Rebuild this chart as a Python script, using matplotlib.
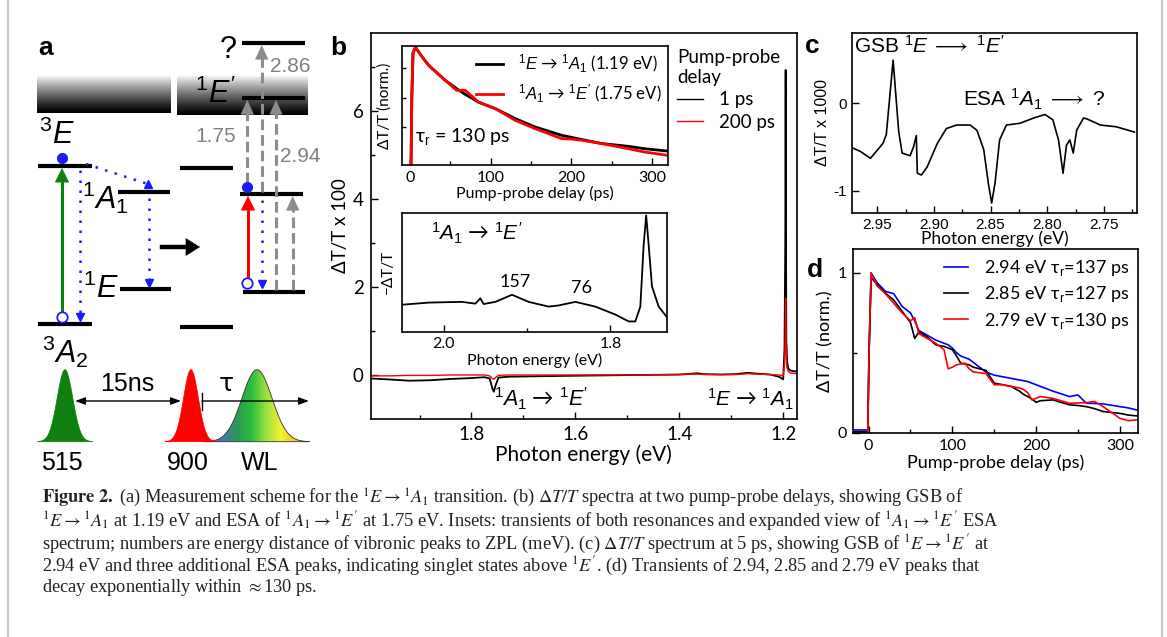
import numpy as np
import matplotlib.pyplot as plt
from matplotlib.patches import Polygon
from matplotlib.colors import LinearSegmentedColormap
from matplotlib.lines import Line2D

plt.rcParams['font.family'] = ['Lato', 'DejaVu Sans']
plt.rcParams['mathtext.fontset'] = 'custom'
plt.rcParams['mathtext.rm'] = 'Liberation Sans'
plt.rcParams['mathtext.it'] = 'Liberation Sans:italic'
plt.rcParams['mathtext.bf'] = 'Liberation Sans:bold'
plt.rcParams['mathtext.fallback'] = 'stix'
plt.rcParams['axes.unicode_minus'] = False

# ---- data: panel b, main spectra (photon energy in eV, dT/T x 100)
E_main = [1.994, 1.96, 1.92, 1.88, 1.84, 1.80, 1.775, 1.765, 1.760, 1.757, 1.754,
          1.748, 1.73, 1.68, 1.62, 1.55, 1.48, 1.40, 1.375, 1.365, 1.355, 1.32,
          1.29, 1.268, 1.25, 1.225, 1.208, 1.200, 1.1975, 1.196, 1.1953, 1.1947,
          1.194, 1.1925, 1.190, 1.187, 1.182, 1.174]
spec_1ps = [-0.08, -0.10, -0.13, -0.12, -0.09, -0.07, -0.05, -0.08, -0.30, -0.38, -0.25,
            -0.06, -0.04, -0.03, -0.02, -0.01, 0.0, 0.01, 0.03, 0.04, 0.02, 0.01,
            0.02, 0.05, 0.03, 0.01, -0.04, -0.10, 0.6, 3.0, 6.93, 3.5,
            0.8, 0.3, 0.15, 0.11, 0.09, 0.08]
spec_200ps = [-0.02, -0.02, -0.01, -0.01, 0.0, 0.0, 0.0, -0.02, -0.08, -0.10, -0.06,
              -0.01, 0.0, 0.0, 0.0, 0.0, 0.0, 0.01, 0.02, 0.02, 0.01, 0.01,
              0.01, 0.03, 0.02, 0.01, 0.0, -0.02, 0.25, 0.8, 1.75, 0.9,
              0.35, 0.15, 0.08, 0.05, 0.04, 0.03]

# inset 1: transients (ps, normalised)
t_tr = [1.5, 2.5, 4, 7, 15, 23.5, 34, 44, 58, 68.5, 85, 106, 130.5, 155, 188, 200,
        213, 237.5, 270, 290, 318]
tr_119 = [-0.1, 0.5, 0.88, 0.93, 0.85, 0.775, 0.71, 0.648, 0.578, 0.53, 0.464, 0.408,
          0.324, 0.253, 0.182, 0.165, 0.146, 0.112, 0.089, 0.069, 0.049]
tr_175 = [-0.1, 0.5, 0.88, 0.93, 0.85, 0.775, 0.71, 0.648, 0.564, 0.564, 0.464, 0.408,
          0.309, 0.239, 0.154, 0.150, 0.14, 0.112, 0.069, 0.041, 0.013]

# inset 2: ESA spectrum 1A1 -> 1E'
E_esa = [2.048, 2.018, 1.978, 1.962, 1.956, 1.952, 1.938, 1.918, 1.898, 1.874, 1.862,
         1.842, 1.818, 1.794, 1.778, 1.770, 1.764, 1.760, 1.757, 1.754, 1.750, 1.742, 1.732]
esa = [0.227, 0.244, 0.25, 0.235, 0.28, 0.232, 0.25, 0.31, 0.25, 0.21, 0.22,
       0.25, 0.21, 0.143, 0.085, 0.085, 0.21, 0.73, 0.98, 0.73, 0.38, 0.21, 0.12]

# panel c: spectrum at 5 ps (dT/T x 1000)
E_c = [2.972, 2.965, 2.956, 2.945, 2.942, 2.936, 2.931, 2.928, 2.921, 2.918, 2.9155,
       2.9146, 2.911, 2.906, 2.897, 2.889, 2.880, 2.868, 2.862, 2.856, 2.852, 2.849,
       2.846, 2.842, 2.836, 2.824, 2.812, 2.802, 2.795, 2.790, 2.786, 2.783, 2.780,
       2.777, 2.774, 2.768, 2.765, 2.753, 2.739, 2.723]
spec_c = [-0.51, -0.55, -0.63, -0.46, -0.36, 0.49, -0.33, -0.57, -0.60, -0.50, -0.37,
          -0.80, -0.82, -0.73, -0.46, -0.29, -0.25, -0.25, -0.31, -0.53, -0.91, -1.14,
          -0.91, -0.42, -0.25, -0.23, -0.17, -0.13, -0.19, -0.42, -0.80, -0.48, -0.42,
          -0.57, -0.31, -0.17, -0.18, -0.25, -0.27, -0.33]

# panel d: transients (ps, normalised)
t_d = [-20, -1, 0.5, 3, 10, 20, 30, 40, 50, 55, 60, 70, 80, 90, 95, 100, 105, 110, 115,
       120, 125, 140, 150, 160, 170, 180, 185, 190, 195, 200, 205, 220, 240, 250, 260,
       270, 280, 300, 310, 320]
d_294 = [0.017, 0.017, 0.5, 1.0, 0.94, 0.885, 0.87, 0.79, 0.75, 0.70, 0.64, 0.61, 0.58,
         0.56, 0.55, 0.53, 0.50, 0.48, 0.47, 0.46, 0.44, 0.38, 0.36, 0.35, 0.34, 0.33,
         0.325, 0.32, 0.31, 0.30, 0.29, 0.26, 0.226, 0.236, 0.184, 0.183, 0.18, 0.163,
         0.155, 0.142]
d_285 = [0.006, 0.006, 0.5, 0.97, 0.93, 0.875, 0.83, 0.76, 0.69, 0.59, 0.63, 0.60, 0.55,
         0.54, 0.53, 0.52, 0.48, 0.435, 0.43, 0.425, 0.41, 0.39, 0.31, 0.30, 0.29, 0.26,
         0.24, 0.226, 0.21, 0.19, 0.20, 0.205, 0.174, 0.17, 0.163, 0.15, 0.132, 0.121,
         0.11, 0.105]
d_279 = [0.0, 0.0, 0.5, 1.0, 0.92, 0.87, 0.81, 0.75, 0.70, 0.72, 0.62, 0.59, 0.56,
         0.52, 0.40, 0.41, 0.425, 0.43, 0.435, 0.40, 0.38, 0.37, 0.30, 0.30, 0.29, 0.28,
         0.27, 0.25, 0.205, 0.215, 0.226, 0.215, 0.184, 0.186, 0.188, 0.195, 0.163, 0.09,
         0.075, 0.08]

# ---- schematic (panel a), pixel coordinates
levels = [(38, 92, 166), (38, 92, 324), (118, 170, 192), (120, 171, 289),
          (180, 233, 168), (180, 233, 327), (242, 305, 43), (242, 305, 98),
          (240, 303, 194), (243, 305, 292)]
pulse_center = [65, 191, 257]
pulse_sigma = [7.8, 7.4, 15]
pulse_height = 72
pulse_base = 441.7

W, H = 1167, 637
fig = plt.figure(figsize=(W / 100, H / 100), dpi=100)
ARROWFONT = ['Lato', 'DejaVu Sans']


def box(l, t, r, b):
    return [l / W, 1 - b / H, (r - l) / W, (b - t) / H]


ax0 = fig.add_axes([0, 0, 1, 1])
ax0.axis('off')

# page border
ax0.plot([7.5, 7.5], [0, H], color='#c8c8c8', lw=1.6)
ax0.plot([1161.5, 1161.5], [0, H], color='#c8c8c8', lw=1.6)

# gradient bars
s = np.linspace(0, 1, 100)
grad = (0.95 * (1 - s) ** 1.2)[:, None]
for l, r, t, b in [(36.7, 170, 76.7, 113.3), (177.3, 308.3, 76.7, 115)]:
    ax0.imshow(grad, cmap='gray', vmin=0, vmax=1, extent=(l, r, b, t), aspect='auto', zorder=1)

for x0, x1, y in levels:
    ax0.plot([x0, x1], [y, y], color='black', lw=3, solid_capstyle='butt', zorder=3)


def arrow(x0, y0, x1, y1, color, ls='-', lw=2.2, hl=12, hw=0.24):
    d = np.hypot(x1 - x0, y1 - y0)
    ux, uy = (x1 - x0) / d, (y1 - y0) / d
    ax0.plot([x0, x1 - ux * hl * 0.8], [y0, y1 - uy * hl * 0.8], color=color,
             ls=ls, lw=lw, zorder=4)
    ax0.annotate('', xy=(x1, y1), xytext=(x1 - ux * hl, y1 - uy * hl),
                 arrowprops=dict(arrowstyle=f'-|>,head_length=0.48,head_width={hw}',
                                 color=color, lw=0.5, shrinkA=0, shrinkB=0,
                                 mutation_scale=20), zorder=4)


def dotted(xs, ys, marker):
    ax0.plot(xs, ys, color='#1a1aff', ls=(0, (1, 3)), lw=1.8, zorder=4)
    ax0.plot(xs[-1], ys[-1], marker=marker, color='#1a1aff', ms=6, zorder=4)


green = '#0f7f0f'
grey = '#8c8c8c'
arrow(62, 318, 62, 168, green)
arrow(248, 284, 248, 196, '#ff0000')
dash = (0, (3.5, 1.6))
arrow(247.3, 183, 247.3, 100, grey, ls=dash, hw=0.22)
arrow(261.7, 192, 261.7, 45, grey, ls=dash, hw=0.22)
arrow(276, 290, 276, 100, grey, ls=dash, hw=0.22)
arrow(292.7, 290, 292.7, 196, grey, ls=dash, hw=0.22)
arrow(162, 247, 200, 247, 'black', lw=3.2, hl=13, hw=0.3)
dotted([80, 80], [170, 317], 'v')
dotted([86, 148], [164, 184], '^')
dotted([149, 149], [198, 283], 'v')
dotted([261.7, 261.7], [200, 284], 'v')

ax0.plot([62.3, 247.3], [158.3, 186.7], 'o', color='#1a1aff', ms=7, zorder=5)
ax0.plot([61.7, 247.3], [316.7, 283.3], 'o', mfc='white', mec='#1a1aff', mew=1.3,
         ms=7.5, zorder=5)

big = 22
ax0.text(38, 55, 'a', fontsize=19, fontweight='bold', family='Liberation Sans')
ax0.text(228, 50, '?', fontsize=big, ha='center', va='center', family='Liberation Sans')
ax0.text(290, 67, '2.86', fontsize=15, color='#808080', ha='center', va='center',
         family='Liberation Sans', zorder=6)
ax0.text(216, 92, r"$^1E'$", fontsize=big, ha='center', va='center', zorder=6)
ax0.text(57, 133, r'$^3E$', fontsize=big, ha='center', va='center')
ax0.text(216, 136, '1.75', fontsize=15, color='#808080', ha='center', va='center',
         family='Liberation Sans')
ax0.text(300, 157, '2.94', fontsize=15, color='#808080', ha='center', va='center',
         family='Liberation Sans', zorder=6)
ax0.text(105, 198, r'$^1A_1$', fontsize=big, ha='center', va='center')
ax0.text(101, 287, r'$^1E$', fontsize=big, ha='center', va='center')
ax0.text(65, 352, r'$^3A_2$', fontsize=big, ha='center', va='center')

# pulses
cmap_wl = LinearSegmentedColormap.from_list(
    'wl', ['#7b55b5', '#3c7fa8', '#2a9a55', '#2fbf3a', '#9fe040', '#f4f22e',
           '#f8c030', '#ee8410'])
for i, (c, sg) in enumerate(zip(pulse_center, pulse_sigma)):
    xs = np.linspace(c - 3.5 * sg, c + 3.5 * sg, 120)
    ys = pulse_base - pulse_height * np.exp(-0.5 * ((xs - c) / sg) ** 2)
    pts = np.column_stack([np.r_[xs, xs[-1], xs[0]], np.r_[ys, pulse_base, pulse_base]])
    if i == 2:
        poly = Polygon(pts, closed=True, fc='none', ec='#333333', lw=0.6, zorder=3)
        ax0.add_patch(poly)
        im = ax0.imshow(np.linspace(0, 1, 200)[None, :], cmap=cmap_wl,
                        extent=(xs[0] + 4, xs[-1], pulse_base, pulse_base - pulse_height),
                        aspect='auto', zorder=2)
        im.set_clip_path(poly)
    else:
        col = green if i == 0 else '#ff0000'
        ax0.add_patch(Polygon(pts, closed=True, fc=col, ec=col, lw=0.5, zorder=3 + i))
ax0.annotate('', xy=(181, 401), xytext=(75, 401),
             arrowprops=dict(arrowstyle='<|-|>,head_length=0.5,head_width=0.18',
                             color='black', lw=1.0, shrinkA=0, shrinkB=0, mutation_scale=12))
ax0.annotate('', xy=(309, 401), xytext=(202, 401),
             arrowprops=dict(arrowstyle='-|>,head_length=0.5,head_width=0.18',
                             color='black', lw=1.0, shrinkA=0, shrinkB=0, mutation_scale=12),
             zorder=6)
ax0.plot([202, 202], [393, 410], color='black', lw=1.0, zorder=6)
ax0.text(127, 384, '15ns', fontsize=18, ha='center', va='center', family='Liberation Sans')
ax0.text(226, 384, 'τ', fontsize=18, ha='center', va='center', family='DejaVu Sans')
for x, lab in [(62, '515'), (188, '900'), (260, 'WL')]:
    ax0.text(x, 463, lab, fontsize=18, ha='center', va='center', family='Liberation Sans')

# caption
cap_lines = [
    r"$\mathbf{Figure\ 2.}$ (a) Measurement scheme for the $^1E\rightarrow{}^1A_1$ transition. "
    r"(b) $\Delta T/T$ spectra at two pump-probe delays, showing GSB of",
    r"$^1E\rightarrow{}^1A_1$ at 1.19 eV and ESA of $^1A_1\rightarrow{}^1E'$ at 1.75 eV. "
    r"Insets: transients of both resonances and expanded view of $^1A_1\rightarrow{}^1E'$ ESA",
    r"spectrum; numbers are energy distance of vibronic peaks to ZPL (meV). "
    r"(c) $\Delta T/T$ spectrum at 5 ps, showing GSB of $^1E\rightarrow{}^1E'$ at",
    r"2.94 eV and three additional ESA peaks, indicating singlet states above $^1E'$. "
    r"(d) Transients of 2.94, 2.85 and 2.79 eV peaks that",
    r"decay exponentially within $\approx$130 ps.",
]
cap_y = [498, 521, 544, 566, 588]
for line, y in zip(cap_lines, cap_y):
    ax0.text(42, y, line, fontsize=13.2, family='Liberation Serif', math_fontfamily='stix',
             va='center', color='#231f20')

ax0.set_xlim(0, W)
ax0.set_ylim(H, 0)


def style(ax, fs, pad=4):
    ax.tick_params(which='both', direction='in', labelsize=fs, pad=pad, width=1)
    ax.tick_params(which='major', length=5)
    ax.tick_params(which='minor', length=3)
    for sp in ax.spines.values():
        sp.set_linewidth(1.2)


# ---- panel b
axb = fig.add_axes(box(370.7, 33, 796.7, 419))
axb.plot(E_main, spec_1ps, color='black', lw=1.3)
axb.plot(E_main, spec_200ps, color='#ff0000', lw=1.0)
axb.set_xlim(1.994, 1.174)
axb.set_ylim(-1.0, 7.77)
axb.set_xticks([1.8, 1.6, 1.4, 1.2])
axb.set_xticks([1.9, 1.7, 1.5, 1.3], minor=True)
axb.set_yticks([0, 2, 4, 6])
axb.set_yticks([1, 3, 5, 7], minor=True)
style(axb, 13.5, pad=5)
axb.set_xlabel('Photon energy (eV)', fontsize=15, labelpad=1)
axb.set_ylabel('ΔT/T x 100', fontsize=13.5, labelpad=3)
axb.legend(handles=[Line2D([], [], color='black', lw=1), Line2D([], [], color='#ff0000', lw=1)],
           labels=['1 ps', '200 ps'], title='Pump-probe\ndelay', alignment='left',
           loc='upper left', bbox_to_anchor=(677 / W, 1 - 49 / H),
           bbox_transform=fig.transFigure, frameon=False, fontsize=13.5,
           title_fontsize=13.5, handlelength=1.4, handletextpad=0.85,
           labelspacing=0.3, borderpad=0, borderaxespad=0)
axb.text(1.757, -0.55, r"$^1A_1$ → $^1E'$", fontsize=15.5, ha='left', va='center',
         family=ARROWFONT)
axb.text(1.346, -0.55, r"$^1E$ → $^1A_1$", fontsize=15, ha='left', va='center',
         family=ARROWFONT)
fig.text(330 / W, 1 - 55 / H, 'b', fontsize=19, fontweight='bold', family='Liberation Sans')

# inset 1
ai = fig.add_axes(box(401.7, 46, 668.3, 165))
ai.plot(t_tr, tr_119, color='black', lw=2.0, label=r"$^1E$ → $^1A_1$ (1.19 eV)")
ai.plot(t_tr, tr_175, color='#ff0000', lw=2.0, label=r"$^1A_1$ → $^1E'$ (1.75 eV)")
ai.set_xlim(-10, 320)
ai.set_ylim(-0.07, 0.94)
ai.set_xticks([0, 100, 200, 300])
ai.set_xticks([50, 150, 250], minor=True)
ai.set_yticks([0.25, 0.5, 0.75])
ai.set_yticklabels([])
style(ai, 11.5, pad=4)
ai.tick_params(axis='y', length=3)
ai.set_xlabel('Pump-probe delay (ps)', fontsize=11.5, labelpad=1)
ai.set_ylabel('ΔT/T (norm.)', fontsize=11, labelpad=3)
ai.legend(loc='upper right', frameon=False, fontsize=12, handlelength=1.6,
          handletextpad=0.9, labelspacing=0.45, borderaxespad=0.2, borderpad=0.2)
ai.text(0.05, 0.24, r'τ$_\mathrm{r}$ = 130 ps', fontsize=14, transform=ai.transAxes,
        va='center')

# inset 2
ai2 = fig.add_axes(box(402, 213, 667, 331.5))
ai2.plot(E_esa, esa, color='black', lw=1.3)
ai2.set_xlim(2.05, 1.732)
ai2.set_ylim(0, 1.0)
ai2.set_xticks([2.0, 1.8])
ai2.set_xticklabels(['2.0', '1.8'])
ai2.set_xticks([1.9], minor=True)
ai2.set_yticks([])
style(ai2, 11.5, pad=4)
ai2.set_xlabel('Photon energy (eV)', fontsize=11.5, labelpad=1)
ai2.set_ylabel('−ΔT/T', fontsize=11, labelpad=5)
ai2.text(0.11, 0.83, r"$^1A_1$ → $^1E'$", fontsize=15, transform=ai2.transAxes,
         va='center', family=ARROWFONT)
ai2.text(1.914, 0.42, '157', fontsize=13, ha='center', va='center')
ai2.text(1.834, 0.37, '76', fontsize=13, ha='center', va='center')

# ---- panel c
axc = fig.add_axes(box(852.3, 33, 1136.7, 212.7))
axc.plot(E_c, spec_c, color='black', lw=1.2)
axc.set_xlim(2.972, 2.721)
axc.set_ylim(-1.25, 0.80)
axc.set_xticks([2.95, 2.90, 2.85, 2.80, 2.75])
axc.set_xticklabels(['2.95', '2.90', '2.85', '2.80', '2.75'], family='Liberation Sans')
axc.set_xticks([2.925, 2.875, 2.825, 2.775, 2.725], minor=True)
axc.set_yticks([0, -1])
axc.set_yticklabels(['0', '-1'], family='Liberation Sans')
style(axc, 11, pad=4)
axc.set_xlabel('Photon energy (eV)', fontsize=12.5, labelpad=-1)
axc.set_ylabel('ΔT/T x 1000', fontsize=11.5, family='Liberation Sans', labelpad=2)
axc.text(0.005, 0.93, r"GSB $^1E\;\longrightarrow\;{}^1E'$", fontsize=15,
         family='Liberation Sans', transform=axc.transAxes, va='center')
axc.text(0.39, 0.63, r'ESA $^1A_1\;\longrightarrow$ ?', fontsize=15,
         family='Liberation Sans', transform=axc.transAxes, va='center')
fig.text(805 / W, 1 - 53.3 / H, 'c', fontsize=19, fontweight='bold', family='Liberation Sans')

# ---- panel d
axd = fig.add_axes(box(852.7, 249, 1138.3, 433.3))
axd.plot(t_d, d_294, color='#0000ff', lw=1.2, label=r'2.94 eV τ$_\mathrm{r}$=137 ps')
axd.plot(t_d, d_285, color='black', lw=1.2, label=r'2.85 eV τ$_\mathrm{r}$=127 ps')
axd.plot(t_d, d_279, color='#ff0000', lw=1.2, label=r'2.79 eV τ$_\mathrm{r}$=130 ps')
axd.set_xlim(-19, 322)
axd.set_ylim(-0.004, 1.15)
axd.set_xticks([0, 100, 200, 300])
axd.set_xticks([50, 150, 250], minor=True)
axd.set_yticks([0, 1])
axd.set_yticks([0.5], minor=True)
style(axd, 11.5, pad=4)
axd.set_xlabel('Pump-probe delay (ps)', fontsize=13, labelpad=1)
axd.set_ylabel('ΔT/T (norm.)', fontsize=13, labelpad=3)
axd.legend(loc='upper right', frameon=False, fontsize=13, handlelength=1.3,
           handletextpad=0.9, labelspacing=0.35, borderaxespad=0.3, borderpad=0.2)
fig.text(807 / W, 1 - 276.7 / H, 'd', fontsize=19, fontweight='bold', family='Liberation Sans')

fig.savefig('out.png', dpi=100)
